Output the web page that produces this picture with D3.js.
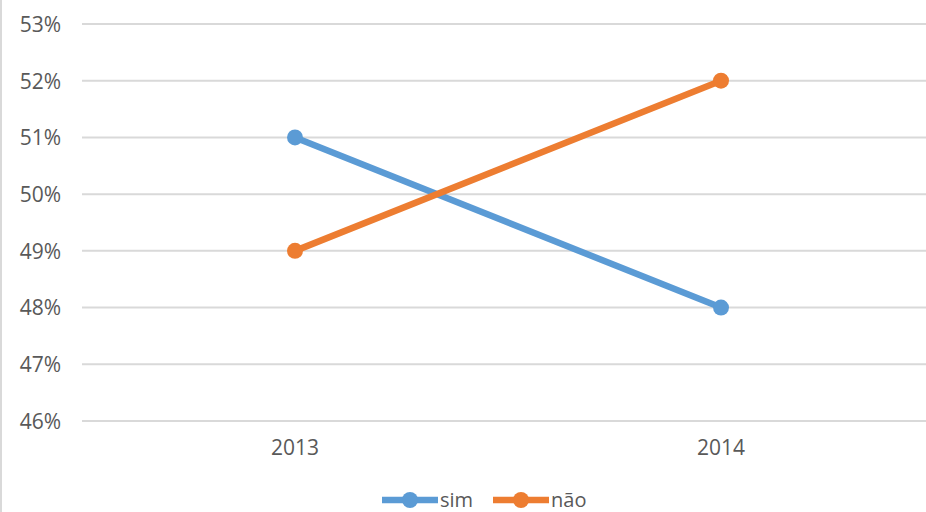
<!DOCTYPE html>
<html><head><meta charset="utf-8">
<script src="https://cdn.jsdelivr.net/npm/d3@7"></script>
<style>html,body{margin:0;padding:0;background:#fff;overflow:hidden}</style>
</head><body>
<svg id="c" width="926" height="512"></svg>
<script>
const categories = ["2013", "2014"];
const seriesNames = ["sim", "não"];
const simValues = [0.51, 0.48];
const naoValues = [0.49, 0.52];
const yTicks = [0.46, 0.47, 0.48, 0.49, 0.50, 0.51, 0.52, 0.53];
const colors = ["#5B9BD5", "#ED7D31"];

const svg = d3.select("#c");
const font = "'Open Sans', Calibri, sans-serif";
const textColor = "#595959";

svg.append("rect").attr("x", 0).attr("y", 0).attr("width", 926).attr("height", 512).attr("fill", "#fff");
svg.append("line").attr("x1", 1).attr("x2", 1).attr("y1", 0).attr("y2", 512)
  .attr("stroke", "#d9d9d9").attr("stroke-width", 2);

const x = d3.scaleBand().domain(categories).range([82, 934]);
const y = d3.scaleLinear().domain([0.46, 0.53]).range([421, 24]);

// gridlines
svg.append("g").selectAll("line").data(yTicks).join("line")
  .attr("x1", 82).attr("x2", 934)
  .attr("y1", d => y(d)).attr("y2", d => y(d))
  .attr("stroke", "#d9d9d9").attr("stroke-width", 2);

// y axis labels
const yAxis = d3.axisLeft(y).tickValues(yTicks).tickFormat(d3.format(".0%")).tickSize(0).tickPadding(0);
const ya = svg.append("g").attr("transform", "translate(61,0)").call(yAxis);
ya.select(".domain").remove();
ya.selectAll("text").attr("font-family", font).attr("font-size", 21).attr("fill", textColor).attr("dy", "0.35em");

// x axis labels
const xAxis = d3.axisBottom(x).tickSize(0).tickPadding(0);
const xa = svg.append("g").attr("transform", "translate(0,440)").call(xAxis);
xa.select(".domain").remove();
xa.selectAll("text").attr("font-family", font).attr("font-size", 21).attr("fill", textColor).attr("dy", "0.71em").attr("y", 0);

const series = [simValues, naoValues];
const line = d3.line().x((d, i) => x(categories[i]) + x.bandwidth() / 2).y(d => y(d));

series.forEach((vals, si) => {
  const g = svg.append("g");
  g.append("path").datum(vals).attr("d", line).attr("fill", "none")
    .attr("stroke", colors[si]).attr("stroke-width", 6.5).attr("stroke-linecap", "round");
  g.selectAll("circle").data(vals).join("circle")
    .attr("cx", (d, i) => x(categories[i]) + x.bandwidth() / 2)
    .attr("cy", d => y(d)).attr("r", 8).attr("fill", colors[si]);
});

// legend
const legendItems = [{x: 382, name: seriesNames[0], c: colors[0]}, {x: 493, name: seriesNames[1], c: colors[1]}];
const ly = 500;
legendItems.forEach(it => {
  const g = svg.append("g");
  g.append("line").attr("x1", it.x).attr("x2", it.x + 56).attr("y1", ly).attr("y2", ly)
    .attr("stroke", it.c).attr("stroke-width", 6.5);
  g.append("circle").attr("cx", it.x + 28).attr("cy", ly).attr("r", 8).attr("fill", it.c);
  g.append("text").attr("x", it.x + 58).attr("y", ly).attr("dy", "0.35em")
    .attr("font-family", font).attr("font-size", 20).attr("fill", textColor).text(it.name);
});
</script>
</body></html>
